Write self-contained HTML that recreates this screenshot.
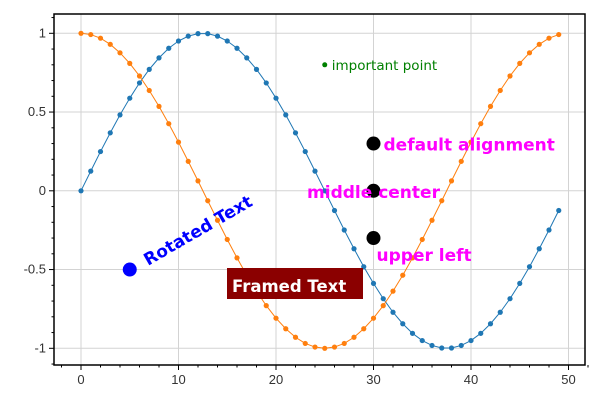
<!DOCTYPE html>
<html><head><meta charset="utf-8"><style>
body{margin:0;background:#fff}
svg{display:block;font-family:"Liberation Sans",sans-serif}
</style></head><body>
<svg id="chart" width="600" height="400" viewBox="0 0 600 400"></svg>
<script>
const xValues=[0,1,2,3,4,5,6,7,8,9,10,11,12,13,14,15,16,17,18,19,20,21,22,23,24,25,26,27,28,29,30,31,32,33,34,35,36,37,38,39,40,41,42,43,44,45,46,47,48,49];
const sinValues=[0,0.125,0.249,0.368,0.482,0.588,0.685,0.771,0.844,0.905,0.951,0.982,0.998,0.998,0.982,0.951,0.905,0.844,0.771,0.685,0.588,0.482,0.368,0.249,0.125,0,-0.125,-0.249,-0.368,-0.482,-0.588,-0.685,-0.771,-0.844,-0.905,-0.951,-0.982,-0.998,-0.998,-0.982,-0.951,-0.905,-0.844,-0.771,-0.685,-0.588,-0.482,-0.368,-0.249,-0.125];
const cosValues=[1,0.992,0.969,0.930,0.876,0.809,0.729,0.637,0.536,0.426,0.309,0.187,0.063,-0.063,-0.187,-0.309,-0.426,-0.536,-0.637,-0.729,-0.809,-0.876,-0.930,-0.969,-0.992,-1,-0.992,-0.969,-0.930,-0.876,-0.809,-0.729,-0.637,-0.536,-0.426,-0.309,-0.187,-0.063,0.063,0.187,0.309,0.426,0.536,0.637,0.729,0.809,0.876,0.930,0.969,0.992];
const xTicks=[0,10,20,30,40,50];
const yTicks=[-1,-0.5,0,0.5,1];
const yTickLabels=["-1","-0.5","0","0.5","1"];
const xMinor=[-2,2,4,6,8,12,14,16,18,22,24,26,28,32,34,36,38,42,44,46,48,52];
const yMinor=[-1.1,-0.9,-0.8,-0.7,-0.6,-0.4,-0.3,-0.2,-0.1,0.1,0.2,0.3,0.4,0.6,0.7,0.8,0.9,1.1];

const L=54,R=585,T=14,B=365;
const sx=v=>81+v*9.75;
const sy=v=>190.8-v*157.5;
const svg=document.getElementById('chart');
const NS='http://www.w3.org/2000/svg';
const DJ='"DejaVu Sans",sans-serif';
function mk(tag,attrs,parent){const e=document.createElementNS(NS,tag);for(const k in attrs)e.setAttribute(k,attrs[k]);(parent||svg).appendChild(e);return e;}

const grid=mk('g',{});


xTicks.forEach(t=>mk('line',{x1:sx(t),x2:sx(t),y1:T,y2:B,stroke:'#d3d3d3','stroke-width':1},grid));
yTicks.forEach(t=>mk('line',{x1:L,x2:R,y1:sy(t),y2:sy(t),stroke:'#d3d3d3','stroke-width':1},grid));

function series(vals,color,name){
  const g=mk('g',{});
  
  
  mk('polyline',{points:xValues.map((x,i)=>sx(x)+','+sy(vals[i])).join(' '),fill:'none',stroke:color,'stroke-width':1},g);
  xValues.forEach((x,i)=>{const c=mk('circle',{cx:sx(x),cy:sy(vals[i]),r:2.6,fill:color},g);
    
    });
}
series(sinValues,'#1f77b4','sin-series');
series(cosValues,'#ff7f0e','cos-series');

const ax=mk('g',{});


mk('rect',{x:L,y:T,width:R-L,height:B-T,fill:'none',stroke:'#000','stroke-width':1.5},ax);
xTicks.forEach(t=>{mk('line',{x1:sx(t),x2:sx(t),y1:B,y2:B+5,stroke:'#000'},ax);
  const tx=mk('text',{x:sx(t),y:B+19,'text-anchor':'middle','font-size':13,fill:'#333'},ax);tx.textContent=t;
  
  });
xMinor.forEach(t=>mk('line',{x1:sx(t),x2:sx(t),y1:B,y2:B+2.5,stroke:'#000'},ax));
yTicks.forEach((t,i)=>{mk('line',{x1:L-5,x2:L,y1:sy(t),y2:sy(t),stroke:'#000'},ax);
  const tx=mk('text',{x:L-8,y:sy(t)+4,'text-anchor':'end','font-size':13,fill:'#333'},ax);tx.textContent=yTickLabels[i];
  
  });
yMinor.forEach(t=>mk('line',{x1:L-2.5,x2:L,y1:sy(t),y2:sy(t),stroke:'#000'},ax));

function txt(attrs,s,name){attrs['font-family']=DJ;const e=mk('text',attrs);e.textContent=s;
  
  return e;}
mk('circle',{cx:sx(25),cy:sy(0.8),r:2.5,fill:'green'});
txt({x:sx(25)+7,y:sy(0.8)+5,'font-size':13.5,fill:'green'},'important point','important-point-label');

[0.3,0,-0.3].forEach(v=>mk('circle',{cx:sx(30),cy:sy(v),r:7,fill:'#000'}));
txt({x:sx(30)+10,y:sy(0.3)+7,'font-size':17,'font-weight':'bold',fill:'magenta'},'default alignment','default-alignment-label');
txt({x:sx(30),y:sy(0)+7,'font-size':17,'font-weight':'bold',fill:'magenta','text-anchor':'middle'},'middle center','middle-center-label');
txt({x:sx(30)+3,y:sy(-0.3)+23,'font-size':17,'font-weight':'bold',fill:'magenta'},'upper left','upper-left-label');

mk('circle',{cx:sx(5),cy:sy(-0.5),r:7,fill:'#0000ff'});
txt({x:0,y:0,'font-size':17,'font-weight':'bold',fill:'#0000ff',transform:'translate(148,266) rotate(-30)'},'Rotated Text','rotated-text-label');

const fr=mk('rect',{x:227,y:268,width:136,height:31,fill:'#8b0000'});


txt({x:232,y:292,'font-size':16.5,'font-weight':'bold',fill:'#fff'},'Framed Text','framed-text-label');
</script>
</body></html>
